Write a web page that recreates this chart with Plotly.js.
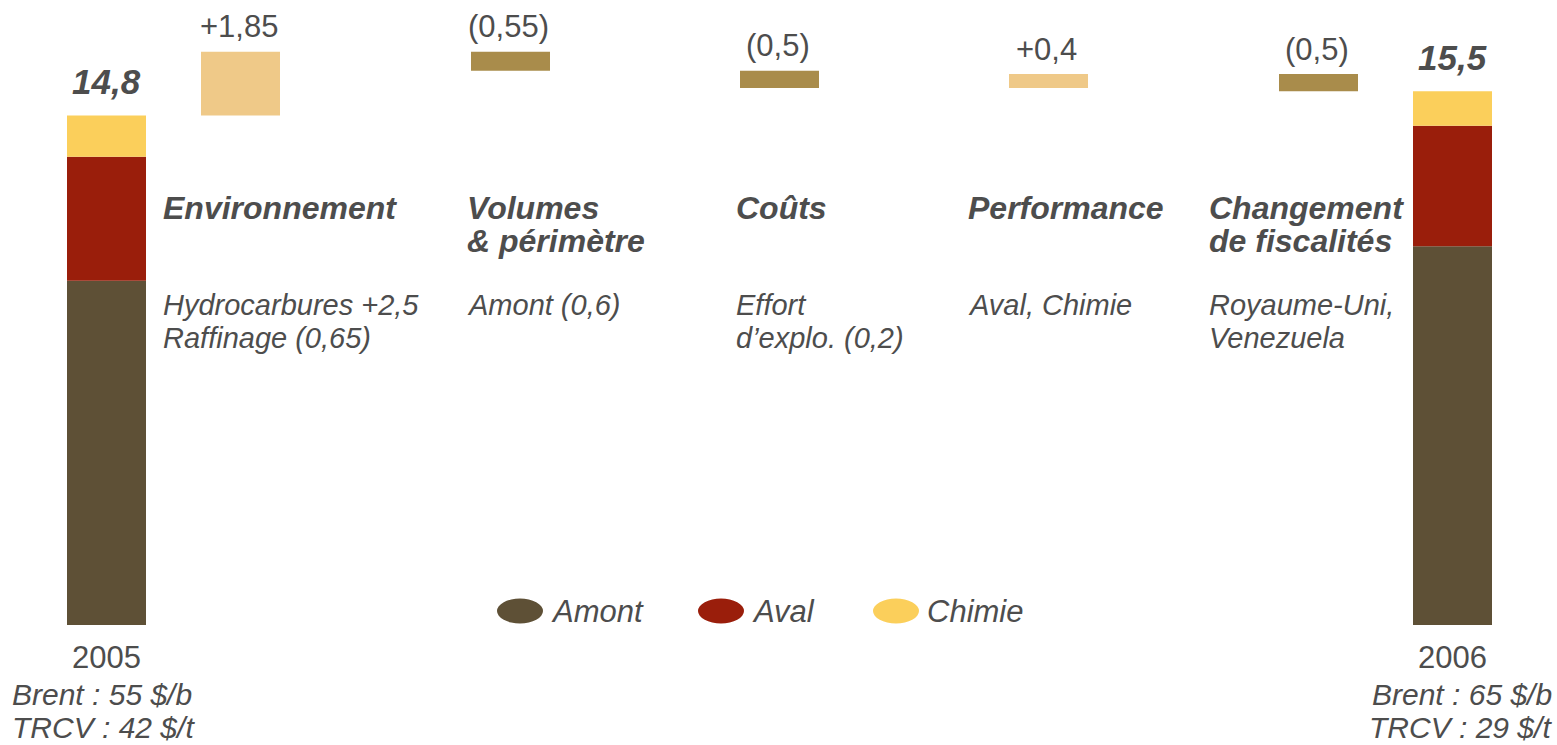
<!DOCTYPE html>
<html>
<head>
<meta charset="utf-8">
<script src="https://cdn.plot.ly/plotly-3.0.1.min.js"></script>
<style>html,body{margin:0;padding:0;background:#fff;}#chart{width:1557px;height:745px;}</style>
</head>
<body>
<div id="chart"></div>
<script>
// ---- data ----
const years = ['2005', '2006'];
const segmentNames = ['Amont', 'Aval', 'Chimie'];
const amont = [10.0, 11.0];
const aval = [3.6, 3.5];
const chimie = [1.2, 1.0];
const totalLabels = ['14,8', '15,5'];
const deltaValues = [1.85, -0.55, -0.5, 0.4, -0.5];
const deltaLabels = ['+1,85', '(0,55)', '(0,5)', '+0,4', '(0,5)'];
const driverTitles = [['Environnement'], ['Volumes', '& périmètre'], ['Coûts'], ['Performance'], ['Changement', 'de fiscalités']];
const driverDetails = [['Hydrocarbures +2,5', 'Raffinage (0,65)'], ['Amont (0,6)'], ['Effort', 'd\u2019explo. (0,2)'], ['Aval, Chimie'], ['Royaume-Uni,', 'Venezuela']];
const yearNotes = [['Brent : 55 $/b', 'TRCV : 42 $/t'], ['Brent : 65 $/b', 'TRCV : 29 $/t']];

// ---- layout / style ----
const W = 1557, H = 745;
const baselinePx = 625, pxPerUnit = 34.43;
const totalX = [106.5, 1452.5];
const deltaX = [240.5, 510.5, 779.5, 1048.5, 1318.5];
const driverLeft = [162, 466, 735, 967, 1208];
const barWidth = 79;
const segColors = ['#5E5036', '#9A1E0B', '#FBCF5B'];
const upColor = '#EFC988';
const downColor = '#A98C4B';
const txt = '#4D4D4D';
const FONT = 'Liberation Sans, Arial, sans-serif';
const py = p => 1 - p / H;

// stacked totals
const segs = [amont, aval, chimie];
const traces = [];
const runningBase = [0, 0];
segs.forEach((vals, i) => {
  traces.push({
    type: 'bar', x: totalX, y: vals, base: runningBase.slice(), width: barWidth,
    name: segmentNames[i], marker: {color: segColors[i], line: {width: 0}},
    hoverinfo: 'skip', showlegend: false
  });
  vals.forEach((v, j) => runningBase[j] += v);
});
const totals = runningBase.slice();

// waterfall deltas
let cum = totals[0];
const dBase = [], dLen = [], dCol = [], dTop = [];
deltaValues.forEach(d => {
  const next = cum + d;
  dBase.push(Math.min(cum, next));
  dLen.push(Math.abs(d));
  dTop.push(Math.max(cum, next));
  dCol.push(d >= 0 ? upColor : downColor);
  cum = next;
});
traces.push({
  type: 'bar', x: deltaX, y: dLen, base: dBase, width: barWidth,
  marker: {color: dCol, line: {width: 0}}, hoverinfo: 'skip', showlegend: false
});

const annotations = [];
const ann = (o) => annotations.push(Object.assign({showarrow: false, borderpad: 0}, o));

// total labels
totals.forEach((t, i) => ann({
  x: totalX[i], xref: 'x', y: t, yref: 'y', yshift: 34, xanchor: 'center', yanchor: 'middle',
  text: totalLabels[i], font: {family: FONT, size: 35, color: txt, weight: 'bold', style: 'italic'}
}));
// delta labels
dTop.forEach((t, i) => ann({
  x: deltaX[i] - 2, xref: 'x', y: t, yref: 'y', yshift: 25, xanchor: 'center', yanchor: 'middle',
  text: deltaLabels[i], font: {family: FONT, size: 31, color: txt}
}));
// driver titles
driverTitles.forEach((lines, i) => lines.forEach((l, k) => ann({
  x: driverLeft[i], xref: 'x', y: py(207.5 + k * 33), yref: 'paper', xanchor: 'left', yanchor: 'middle',
  text: l, font: {family: FONT, size: 32, color: txt, weight: 'bold', style: 'italic'}
})));
// driver details
driverDetails.forEach((lines, i) => lines.forEach((l, k) => ann({
  x: driverLeft[i], xref: 'x', y: py(304.5 + k * 33.5), yref: 'paper', xanchor: 'left', yanchor: 'middle',
  text: l, font: {family: FONT, size: 29, color: txt, style: 'italic'}
})));
// years and notes
const noteY = [694, 727.5];
years.forEach((yr, i) => {
  ann({x: totalX[i], xref: 'x', y: py(657), yref: 'paper', xanchor: 'center', yanchor: 'middle',
    text: yr, font: {family: FONT, size: 31, color: txt}});
  yearNotes[i].forEach((l, k) => ann({
    x: i === 0 ? 11 : 1553, xref: 'x', y: py(noteY[k]), yref: 'paper',
    xanchor: i === 0 ? 'left' : 'right', yanchor: 'middle',
    text: l, font: {family: FONT, size: 30, color: txt, style: 'italic'}
  }));
});

// custom legend
const legendX = [520, 721, 896];
const shapes = [];
segmentNames.forEach((n, i) => {
  shapes.push({type: 'circle', xref: 'x', yref: 'paper', x0: legendX[i] - 23, x1: legendX[i] + 23,
    y0: py(623.5), y1: py(598.5), fillcolor: segColors[i], line: {width: 0}});
  ann({x: legendX[i] + 30, xref: 'x', y: py(611), yref: 'paper', xanchor: 'left', yanchor: 'middle',
    text: n, font: {family: FONT, size: 31, color: txt, style: 'italic'}});
});

const layout = {
  width: W, height: H, margin: {l: 0, r: 0, t: 0, b: 0},
  paper_bgcolor: '#ffffff', plot_bgcolor: '#ffffff',
  barmode: 'overlay', showlegend: false,
  xaxis: {range: [0, W], visible: false, fixedrange: true},
  yaxis: {range: [-(H - baselinePx) / pxPerUnit, baselinePx / pxPerUnit], visible: false, fixedrange: true},
  annotations: annotations, shapes: shapes
};
Plotly.newPlot('chart', traces, layout, {displayModeBar: false, staticPlot: true});
</script>
</body>
</html>
